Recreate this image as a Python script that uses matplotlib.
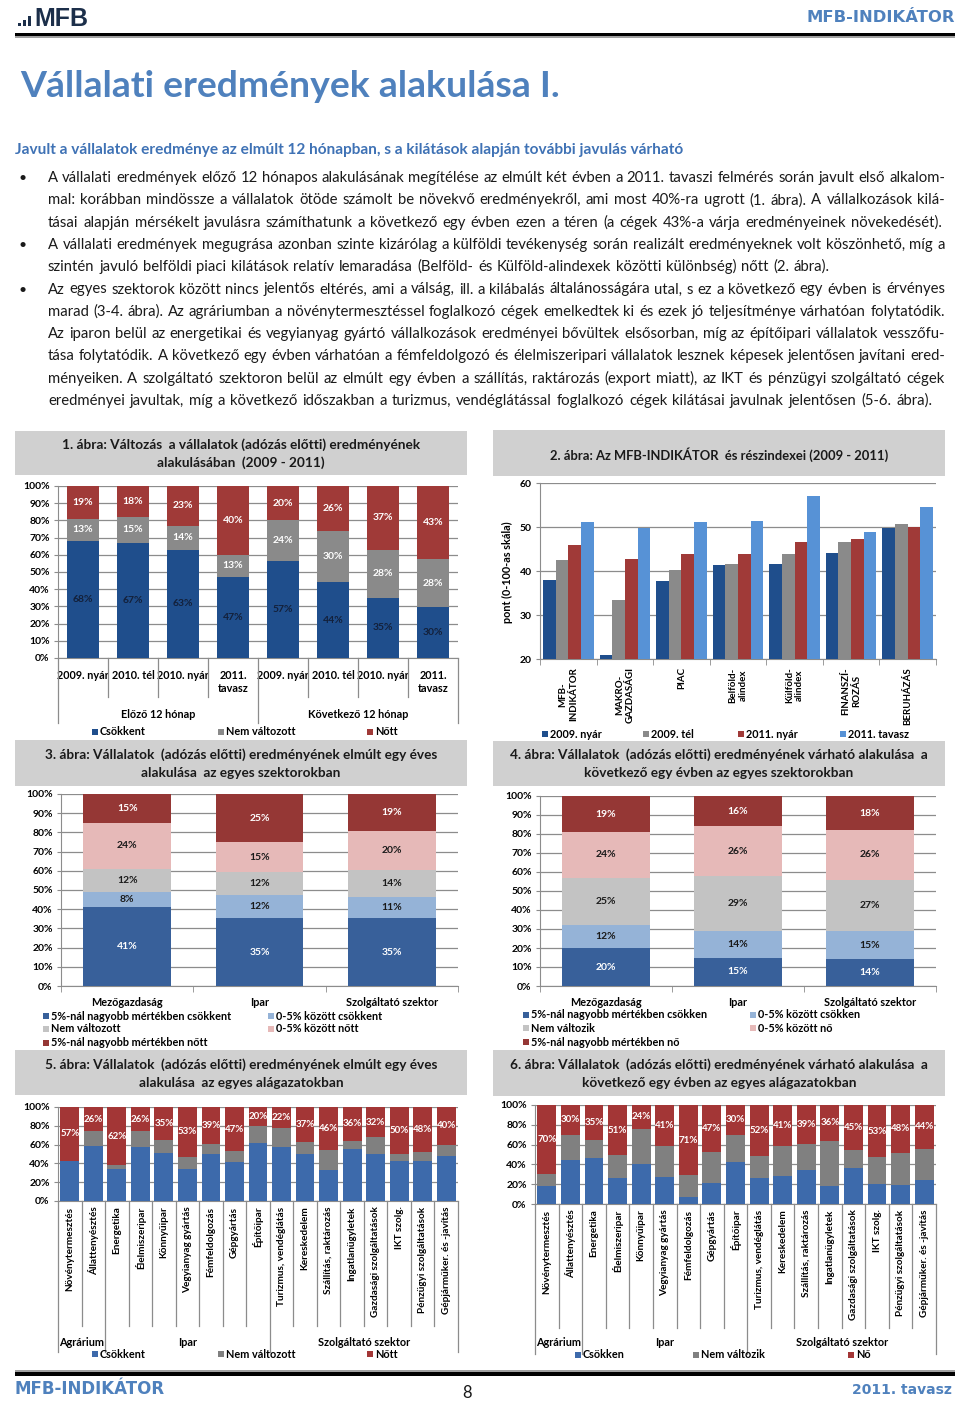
# MFB-INDIKÁTOR oldal: vállalati eredmények (1-6. ábra)
import numpy as np
import matplotlib
matplotlib.use('Agg')
import matplotlib.pyplot as plt
import matplotlib.transforms as mtransforms
from matplotlib.patches import Rectangle

W, H = 960, 1401
plt.rcParams['font.family'] = ['Lato', 'DejaVu Sans']

# ---- 1. ábra ----
c1_labels = ['2009. nyár', '2010. tél', '2010. nyár', '2011.\ntavasz',
             '2009. nyár', '2010. tél', '2010. nyár', '2011.\ntavasz']
c1_groups = ['Előző 12 hónap', 'Következő 12 hónap']
c1_group_sizes = [4, 4]
c1_csokkent = [68, 67, 63, 47, 57, 44, 35, 30]
c1_nem_valt = [13, 15, 14, 13, 24, 30, 28, 28]
c1_nott = [19, 18, 23, 40, 20, 26, 37, 43]

# ---- 2. ábra ----
c2_cats = ['MFB-\nINDIKÁTOR', 'MAKRO-\nGAZDASÁGI', 'PIAC', 'Belföld-\nalindex',
           'Külföld-\nalindex', 'FINANSZÍ-\nROZÁS', 'BERUHÁZÁS']
c2_series = ['2009. nyár', '2009. tél', '2011. nyár', '2011. tavasz']
c2_2009_nyar = [38.0, 21.0, 37.7, 41.4, 41.7, 44.2, 49.7]
c2_2009_tel = [42.6, 33.3, 40.2, 41.7, 43.9, 46.5, 50.7]
c2_2011_nyar = [46.0, 42.7, 43.8, 43.9, 46.5, 47.3, 50.1]
c2_2011_tavasz = [51.1, 49.8, 51.2, 51.4, 57.1, 48.8, 54.5]

# ---- 3. és 4. ábra ----
sectors = ['Mezőgazdaság', 'Ipar', 'Szolgáltató szektor']
c3_names = ['5%-nál nagyobb mértékben csökkent', '0-5% között csökkent', 'Nem változott',
            '0-5% között nőtt', '5%-nál nagyobb mértékben nőtt']
c3_nagy_csokk = [41, 35, 35]
c3_kis_csokk = [8, 12, 11]
c3_nem_valt = [12, 12, 14]
c3_kis_nott = [24, 15, 20]
c3_nagy_nott = [15, 25, 19]

c4_names = ['5%-nál nagyobb mértékben csökken', '0-5% között csökken', 'Nem változik',
            '0-5% között nő', '5%-nál nagyobb mértékben nő']
c4_nagy_csokk = [20, 15, 14]
c4_kis_csokk = [12, 14, 15]
c4_nem_valt = [25, 29, 27]
c4_kis_no = [24, 26, 26]
c4_nagy_no = [19, 16, 18]

# ---- 5. és 6. ábra ----
branches = ['Növénytermesztés', 'Állattenyésztés', 'Energetika', 'Élelmiszeripar', 'Könnyűipar',
            'Vegyianyag gyártás', 'Fémfeldolgozás', 'Gépgyártás', 'Építőipar',
            'Turizmus, vendéglátás', 'Kereskedelem', 'Szállítás, raktározás', 'Ingatlanügyletek',
            'Gazdasági szolgáltatások', 'IKT szolg.', 'Pénzügyi szolgáltatások',
            'Gépjárműker. és -javítás']
branch_groups = ['Agrárium', 'Ipar', 'Szolgáltató szektor']
branch_group_sizes = [2, 7, 8]
c5_csokkent = [43, 59, 34, 57, 51, 34, 50, 42, 62, 57, 50, 33, 55, 50, 43, 43, 48]
c5_nem_valt = [0, 15, 4, 17, 14, 13, 11, 11, 18, 21, 13, 21, 9, 18, 7, 9, 12]
c5_nott = [57, 26, 62, 26, 35, 53, 39, 47, 20, 22, 37, 46, 36, 32, 50, 48, 40]
c6_csokken = [18, 44, 46, 26, 40, 27, 7, 21, 42, 26, 28, 34, 18, 36, 20, 19, 24]
c6_nem_valt = [12, 26, 19, 23, 36, 32, 22, 32, 28, 22, 31, 27, 46, 19, 27, 33, 32]
c6_no = [70, 30, 35, 51, 24, 41, 71, 47, 30, 52, 41, 39, 36, 45, 53, 48, 44]

# ---- szöveg ----
title = 'Vállalati eredmények alakulása I.'
subtitle = ('Javult a vállalatok eredménye az elmúlt 12 hónapban, '
            's a kilátások alapján további javulás várható')
body_lines = [
    'A vállalati eredmények előző 12 hónapos alakulásának megítélése az elmúlt két évben a 2011. tavaszi felmérés során javult első alkalom-',
    'mal: korábban mindössze a vállalatok ötöde számolt be növekvő eredményekről, ami most 40%-ra ugrott (1. ábra). A vállalkozások kilá-',
    'tásai alapján mérsékelt javulásra számíthatunk a következő egy évben ezen a téren (a cégek 43%-a várja eredményeinek növekedését).',
    'A vállalati eredmények megugrása azonban szinte kizárólag a külföldi tevékenység során realizált eredményeknek volt köszönhető, míg a',
    'szintén javuló belföldi piaci kilátások relatív lemaradása (Belföld- és Külföld-alindexek közötti különbség) nőtt (2. ábra).',
    'Az egyes szektorok között nincs jelentős eltérés, ami a válság, ill. a kilábalás általánosságára utal, s ez a következő egy évben is érvényes',
    'marad (3-4. ábra). Az agráriumban a növénytermesztéssel foglalkozó cégek emelkedtek ki és ezek jó teljesítménye várhatóan folytatódik.',
    'Az iparon belül az energetikai és vegyianyag gyártó vállalkozások eredményei bővültek elsősorban, míg az építőipari vállalatok vesszőfu-',
    'tása folytatódik. A következő egy évben várhatóan a fémfeldolgozó és élelmiszeripari vállalatok lesznek képesek jelentősen javítani ered-',
    'ményeiken. A szolgáltató szektoron belül az elmúlt egy évben a szállítás, raktározás (export miatt), az IKT és pénzügyi szolgáltató cégek',
    'eredményei javultak, míg a következő időszakban a turizmus, vendéglátással foglalkozó cégek kilátásai javulnak jelentősen (5-6. ábra).',
]
bullet_lines = [0, 3, 5]
line_ends = [945, 945, 942, 945, 830, 945, 945, 945, 945, 945, 932]

# színek
BLUE_T = '#4f81bd'
GRID = '#8c8c8c'
BOX = '#d0d0d0'
DARK = '#1f4e8c'
GRAY = '#8a8a8a'
RED = '#a03a38'
LBLUE = '#5792d6'
S_DARK, S_LBLUE, S_GRAY, S_PINK, S_RED = '#38609a', '#95b3d7', '#c3c3c3', '#e6b9b8', '#953735'
B_BLUE, B_GRAY, B_RED = '#3d6aab', '#808080', '#a33636'

fig = plt.figure(figsize=(W / 100, H / 100), dpi=100)
fig.patch.set_facecolor('white')
renderer = fig.canvas.get_renderer()


def box(l, t, r, b):
    return [l / W, 1 - b / H, (r - l) / W, (b - t) / H]


def ftext(x, y, s, **kw):
    return fig.text(x / W, 1 - y / H, s, **kw)


def frect(l, t, r, b, color):
    fig.add_artist(Rectangle((l / W, 1 - b / H), (r - l) / W, (b - t) / H,
                             transform=fig.transFigure, color=color, lw=0))


def fit_size(s, width, size0=10, **kw):
    t = fig.text(0, 0, s, fontsize=size0, **kw)
    w = t.get_window_extent(renderer).width
    t.remove()
    return size0 * width / w


def justify(line, x0, x1, y, size, min_gap=3.2, **kw):
    words = line.split(' ')
    objs = [ftext(x0, y, w, va='baseline', ha='left', fontsize=size, **kw) for w in words]
    widths = [o.get_window_extent(renderer).width for o in objs]
    gap = (x1 - x0 - sum(widths)) / max(len(words) - 1, 1)
    if gap < min_gap:
        # túl hosszú sor: kicsinyítés
        scale = (x1 - x0 - min_gap * (len(words) - 1)) / sum(widths)
        widths = [w * scale for w in widths]
        for o in objs:
            o.set_fontsize(size * scale)
        gap = min_gap
    x = x0
    for o, w in zip(objs, widths):
        o.set_x(x / W)
        x += w + gap


# ---- fejléc ----
for i, hgt in enumerate([3, 6, 10]):
    frect(18 + i * 5, 26 - hgt, 21 + i * 5, 26, '#1c2f4a')
ftext(34, 26, 'MFB', fontsize=18, fontweight='bold', color='#1c2f4a', va='baseline',
      family=['Liberation Sans Narrow', 'Liberation Sans', 'DejaVu Sans'])
ftext(955, 22, 'MFB-INDIKÁTOR', ha='right', va='baseline', color=BLUE_T, fontweight='bold',
      fontsize=fit_size('MFB-INDIKÁTOR', 148, family='DejaVu Sans', fontweight='bold'),
      family='DejaVu Sans')
frect(15, 33, 955, 36.5, 'black')
frect(15, 36.5, 955, 38, '#a0a0a0')

ftext(20, 97, title, va='baseline', color=BLUE_T, fontweight='bold',
      fontsize=fit_size(title, 543, fontweight='bold'))
ftext(15, 154, subtitle, va='baseline', color='#3f72b5', fontweight='bold',
      fontsize=fit_size(subtitle, 668, fontweight='bold'))

for i, line in enumerate(body_lines):
    yb = 182 + 22.3 * i
    if i in bullet_lines:
        ftext(18, yb, '•', va='baseline', fontsize=10, color='#1a1a1a')
    justify(line, 48, line_ends[i], yb, 10.7, color='#1a1a1a')


# ---- segédfüggvények a diagramokhoz ----
def title_box(l, t, r, b, lines, ys, width):
    frect(l, t, r, b, BOX)
    fs = fit_size(lines[0], width, fontweight='bold')
    for s, y in zip(lines, ys):
        ftext((l + r) / 2, y, s, ha='center', va='center', fontsize=fs, fontweight='bold',
              color='#1a1a1a')


def style(ax):
    ax.grid(axis='y', color=GRID, lw=0.9, zorder=0)
    ax.set_axisbelow(True)
    for s in ('top', 'right'):
        ax.spines[s].set_visible(False)
    for s in ('left', 'bottom'):
        ax.spines[s].set_color(GRID)
    ax.tick_params(axis='y', length=3, color=GRID, pad=3, labelsize=7.5)
    for lab in ax.get_yticklabels():
        lab.set_fontweight('bold')


def pct_axes(rect, ystep, n):
    ax = fig.add_axes(box(*rect))
    ax.set_xlim(-0.5, n - 0.5)
    ax.set_ylim(0, 100)
    ticks = np.arange(0, 101, ystep)
    ax.set_yticks(ticks)
    ax.set_yticklabels([f'{v}%' for v in ticks])
    style(ax)
    return ax


def stack(ax, series, colors, width, label_colors, fs=7.5):
    vals = np.array(series, dtype=float)
    shares = vals / vals.sum(axis=0) * 100
    x = np.arange(vals.shape[1])
    bottom = np.zeros(vals.shape[1])
    for raw, sh, col, lc in zip(vals, shares, colors, label_colors):
        ax.bar(x, sh, width, bottom=bottom, color=col, zorder=3)
        if lc:
            for xi, b, h, v in zip(x, bottom, sh, raw):
                ax.text(xi, b + h / 2, f'{v:.0f}%', ha='center', va='center', color=lc,
                        fontsize=fs, fontweight='bold', zorder=4)
        bottom += sh


def separators(ax, sizes, inner_px, outer_px, h_px):
    trans = mtransforms.blended_transform_factory(ax.transData, ax.transAxes)
    bounds = list(np.cumsum([0] + sizes) - 0.5)
    for k in range(sum(sizes) + 1):
        xb = k - 0.5
        depth = outer_px if xb in bounds else inner_px
        ax.plot([xb, xb], [0, -depth / h_px], transform=trans, color=GRID, lw=0.9,
                clip_on=False)


def group_labels(ax, names, sizes, y_px, h_px):
    trans = mtransforms.blended_transform_factory(ax.transData, ax.transAxes)
    start = 0
    for name, n in zip(names, sizes):
        ax.text(start + (n - 1) / 2, -y_px / h_px, name, transform=trans, ha='center',
                va='center', fontsize=7.8, fontweight='bold')
        start += n


def legend_item(x, y, color, label):
    frect(x, y - 3, x + 6, y + 3, color)
    ftext(x + 8, y, label, fontsize=7.8, fontweight='bold', va='center', ha='left')


# ---- 1. ábra ----
title_box(15, 431, 467, 475,
          ['1. ábra: Változás  a vállalatok (adózás előtti) eredményének',
           'alakulásában  (2009 - 2011)'], [445, 463], 357)
ax1 = pct_axes((58, 486, 458, 658), 10, 8)
stack(ax1, [c1_csokkent, c1_nem_valt, c1_nott], [DARK, GRAY, RED], 0.65,
      ['#13203a', 'white', 'white'])
ax1.set_xticks(np.arange(8))
ax1.set_xticklabels(c1_labels, fontsize=7.8, fontweight='bold')
ax1.tick_params(axis='x', length=0, pad=9)
separators(ax1, c1_group_sizes, 39, 65, 172)
group_labels(ax1, c1_groups, c1_group_sizes, 57, 172)
legend_item(92, 732, DARK, 'Csökkent')
legend_item(218, 732, GRAY, 'Nem változott')
legend_item(367, 732, RED, 'Nőtt')

# ---- 2. ábra ----
title_box(493, 430, 945, 476, ['2. ábra: Az MFB-INDIKÁTOR  és részindexei (2009 - 2011)'],
          [455], 340)
ax2 = fig.add_axes(box(540, 483, 936, 659))
x2 = np.arange(len(c2_cats))
bw = 0.2235
for j, (vals, col) in enumerate(zip([c2_2009_nyar, c2_2009_tel, c2_2011_nyar, c2_2011_tavasz],
                                    [DARK, GRAY, RED, LBLUE])):
    ax2.bar(x2 + (j - 1.5) * bw, vals, bw, color=col, zorder=3)
ax2.set_ylim(20, 60)
ax2.set_xlim(-0.5, len(c2_cats) - 0.5)
ax2.set_yticks([20, 30, 40, 50, 60])
style(ax2)
ax2.set_xticks(x2)
ax2.set_xticklabels(c2_cats, rotation=90, fontsize=7, fontweight='bold',
                    multialignment='center')
ax2.set_xticks(np.arange(-0.5, len(c2_cats)), minor=True)
ax2.tick_params(axis='x', which='major', length=0, pad=6)
ax2.tick_params(axis='x', which='minor', length=4, color=GRID)
ftext(507, 572, 'pont (0-100-as skála)', rotation=90, ha='center', va='center',
      fontsize=7.8, fontweight='bold')
for xl, name, col in zip([542, 643, 738, 840], c2_series, [DARK, GRAY, RED, LBLUE]):
    legend_item(xl, 734, col, name)

# ---- 3. ábra ----
sect_colors = [S_DARK, S_LBLUE, S_GRAY, S_PINK, S_RED]
sect_lab = ['white', '#1a1a1a', '#1a1a1a', '#1a1a1a', 'white']
title_box(15, 740, 467, 786,
          ['3. ábra: Vállalatok  (adózás előtti) eredményének elmúlt egy éves',
           'alakulása  az egyes szektorokban'], [755, 773], 392)
ax3 = pct_axes((61, 794, 458, 986), 10, 3)
stack(ax3, [c3_nagy_csokk, c3_kis_csokk, c3_nem_valt, c3_kis_nott, c3_nagy_nott],
      sect_colors, 0.66, sect_lab)
ax3.set_xticks(np.arange(3))
ax3.set_xticklabels(sectors, fontsize=7.8, fontweight='bold')
ax3.set_xticks(np.arange(-0.5, 3), minor=True)
ax3.tick_params(axis='x', which='major', length=0, pad=8)
ax3.tick_params(axis='x', which='minor', length=4, color=GRID)
for k, (name, col) in enumerate(zip(c3_names, sect_colors)):
    xl = 43 if k in (0, 2, 4) else 268
    yl = [1016, 1016, 1029, 1029, 1043][k]
    legend_item(xl, yl, col, name)

# ---- 4. ábra ----
title_box(493, 741, 945, 786,
          ['4. ábra: Vállalatok  (adózás előtti) eredményének várható alakulása  a',
           'következő egy évben az egyes szektorokban'], [755, 773], 415)
ax4 = pct_axes((540, 796, 936, 986), 10, 3)
stack(ax4, [c4_nagy_csokk, c4_kis_csokk, c4_nem_valt, c4_kis_no, c4_nagy_no],
      sect_colors, 0.66, sect_lab)
ax4.set_xticks(np.arange(3))
ax4.set_xticklabels(sectors, fontsize=7.8, fontweight='bold')
ax4.set_xticks(np.arange(-0.5, 3), minor=True)
ax4.tick_params(axis='x', which='major', length=0, pad=8)
ax4.tick_params(axis='x', which='minor', length=4, color=GRID)
for k, (name, col) in enumerate(zip(c4_names, sect_colors)):
    xl = 523 if k in (0, 2, 4) else 750
    yl = [1015, 1015, 1028, 1028, 1042][k]
    legend_item(xl, yl, col, name)

# ---- 5. ábra ----
title_box(15, 1050, 467, 1095,
          ['5. ábra: Vállalatok  (adózás előtti) eredményének elmúlt egy éves',
           'alakulása  az egyes alágazatokban'], [1065, 1083], 392)
ax5 = pct_axes((58, 1107, 458, 1201), 20, len(branches))
stack(ax5, [c5_csokkent, c5_nem_valt, c5_nott], [B_BLUE, B_GRAY, B_RED], 0.8,
      [None, None, 'white'], fs=7)
ax5.set_xticks(np.arange(len(branches)))
ax5.set_xticklabels(branches, rotation=90, fontsize=7.2, fontweight='bold')
ax5.tick_params(axis='x', length=0, pad=4)
separators(ax5, branch_group_sizes, 125, 151, 94)
group_labels(ax5, branch_groups, branch_group_sizes, 141, 94)
legend_item(92, 1354, B_BLUE, 'Csökkent')
legend_item(218, 1354, B_GRAY, 'Nem változott')
legend_item(367, 1354, B_RED, 'Nőtt')

# ---- 6. ábra ----
title_box(493, 1050, 945, 1096,
          ['6. ábra: Vállalatok  (adózás előtti) eredményének várható alakulása  a',
           'következő egy évben az egyes alágazatokban'], [1065, 1083], 415)
ax6 = pct_axes((535, 1105, 936, 1204), 20, len(branches))
stack(ax6, [c6_csokken, c6_nem_valt, c6_no], [B_BLUE, B_GRAY, B_RED], 0.8,
      [None, None, 'white'], fs=7)
ax6.set_xticks(np.arange(len(branches)))
ax6.set_xticklabels(branches, rotation=90, fontsize=7.2, fontweight='bold')
ax6.tick_params(axis='x', length=0, pad=4)
separators(ax6, branch_group_sizes, 124, 150, 99)
group_labels(ax6, branch_groups, branch_group_sizes, 139, 99)
legend_item(575, 1355, B_BLUE, 'Csökken')
legend_item(693, 1355, B_GRAY, 'Nem változik')
legend_item(848, 1355, B_RED, 'Nő')

# ---- lábléc ----
frect(15, 1370, 955, 1371.5, '#a0a0a0')
frect(15, 1371.5, 955, 1375.5, 'black')
ftext(15, 1394, 'MFB-INDIKÁTOR', va='baseline', color=BLUE_T, fontweight='bold',
      family='DejaVu Sans',
      fontsize=fit_size('MFB-INDIKÁTOR', 150, family='DejaVu Sans', fontweight='bold'))
ftext(467, 1398, '8', ha='center', va='baseline', fontsize=12, color='#1a1a1a')
ftext(952, 1394, '2011. tavasz', ha='right', va='baseline', color=BLUE_T, fontweight='bold',
      family='DejaVu Sans',
      fontsize=fit_size('2011. tavasz', 100, family='DejaVu Sans', fontweight='bold'))

fig.savefig('out.png', dpi=100, facecolor='white')
